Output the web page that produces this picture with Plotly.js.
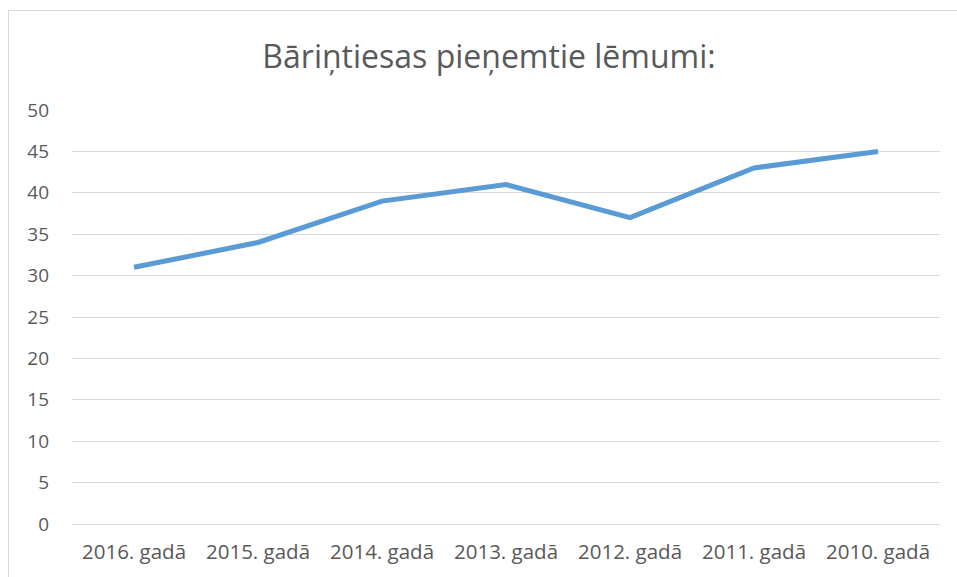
<!DOCTYPE html>
<html>
<head>
<meta charset="utf-8">
<script src="https://cdn.plot.ly/plotly-3.0.1.min.js"></script>
<style>
html,body{margin:0;padding:0;background:#fff;}
#chart{width:957px;height:577px;}
#frame{position:absolute;left:8px;top:10px;width:1000px;height:700px;border:1px solid #d9d9d9;pointer-events:none;}
</style>
</head>
<body>
<div id="chart"></div>
<div id="frame"></div>
<script>
const categories = ["2016. gadā","2015. gadā","2014. gadā","2013. gadā","2012. gadā","2011. gadā","2010. gadā"];
const values = [31, 34, 39, 41, 37, 43, 45];
const yTicks = [0,5,10,15,20,25,30,35,40,45,50];

const font = "Open Sans, Noto Sans, sans-serif";
Plotly.newPlot('chart', [{
  x: categories,
  y: values,
  type: 'scatter',
  mode: 'lines',
  line: {color: '#5b9bd5', width: 5},
  hoverinfo: 'skip'
}], {
  width: 957, height: 577,
  margin: {l: 72, r: 17, t: 110, b: 53},
  paper_bgcolor: 'rgba(0,0,0,0)',
  plot_bgcolor: 'rgba(0,0,0,0)',
  showlegend: false,
  title: {text: 'Bāriņtiesas pieņemtie lēmumi:', font: {family: font, size: 32, color: '#595959'},
          x: 489/957, xanchor: 'center', xref: 'container', y: 1-57/577, yanchor: 'middle', yref: 'container'},
  xaxis: {type: 'category', range: [-0.5, 6.5], showgrid: false, zeroline: false, showline: false, ticks: '',
          tickfont: {family: font, size: 20.5, color: '#595959'}, ticklabelstandoff: 13, fixedrange: true},
  yaxis: {range: [0, 50], tickvals: yTicks, showgrid: true, gridcolor: '#d9d9d9', gridwidth: 1,
          zeroline: true, zerolinecolor: '#d9d9d9', zerolinewidth: 1, showline: false, ticks: '',
          tickfont: {family: font, size: 19, color: '#595959'}, ticklabelstandoff: 22, fixedrange: true}
}, {staticPlot: true});
</script>
</body>
</html>
